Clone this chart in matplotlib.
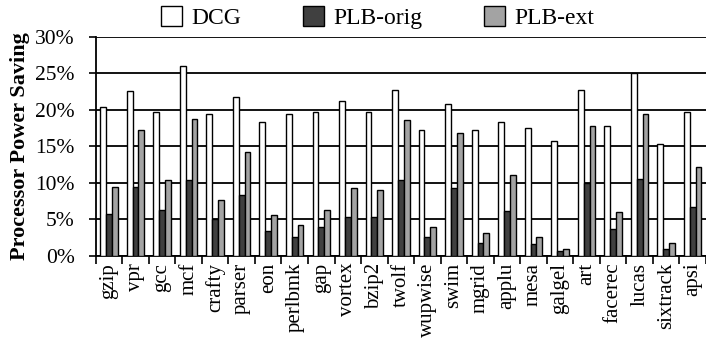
import matplotlib
matplotlib.use("Agg")
import matplotlib.pyplot as plt
import numpy as np

plt.rcParams["font.family"] = ["Liberation Serif", "DejaVu Serif"]

benchmarks = ["gzip", "vpr", "gcc", "mcf", "crafty", "parser", "eon", "perlbmk",
              "gap", "vortex", "bzip2", "twolf", "wupwise", "swim", "mgrid",
              "applu", "mesa", "galgel", "art", "facerec", "lucas", "sixtrack",
              "apsi"]
dcg = [20.4, 22.6, 19.7, 26.0, 19.4, 21.8, 18.3, 19.4, 19.7, 21.2, 19.7, 22.8,
       17.3, 20.8, 17.3, 18.3, 17.5, 15.7, 22.8, 17.8, 25.0, 15.4, 19.7]
plb_orig = [5.8, 9.5, 6.3, 10.4, 5.0, 8.3, 3.4, 2.6, 4.0, 5.3, 5.3, 10.4,
            2.6, 9.3, 1.8, 6.1, 1.6, 0.7, 10.0, 3.7, 10.6, 1.0, 6.7]
plb_ext = [9.5, 17.3, 10.4, 18.8, 7.7, 14.3, 5.6, 4.2, 6.3, 9.3, 9.0, 18.6,
           4.0, 16.8, 3.2, 11.1, 2.6, 1.0, 17.8, 6.0, 19.4, 1.8, 12.2]
yticks = [0, 5, 10, 15, 20, 25, 30]

fig = plt.figure(figsize=(7.06, 3.51), dpi=100)
ax = fig.add_axes([0.1356, 0.271, 0.8644, 0.6236])

x = np.arange(len(benchmarks))
w = 0.22
kw = dict(width=w, edgecolor="black", linewidth=1.0, zorder=3)
ax.bar(x - w, dcg, color="white", label="DCG", **kw)
ax.bar(x, plb_orig, color="#404040", label="PLB-orig", **kw)
ax.bar(x + w, plb_ext, color="#a3a3a3", label="PLB-ext", **kw)

ax.set_xlim(-0.5, len(benchmarks) - 0.5)
ax.set_ylim(0, 30)
ax.set_yticks(yticks)
ax.set_yticklabels([f"{v}%" for v in yticks], fontsize=15.5)
ax.yaxis.grid(True, color="black", linewidth=1.3, zorder=0)
ax.set_axisbelow(True)

ax.set_xticks(x)
ax.set_xticklabels(benchmarks, rotation=90, fontsize=15)
ax.tick_params(axis="x", which="major", length=0, pad=5)
ax.set_xticks(np.arange(len(benchmarks) + 1) - 0.5, minor=True)
ax.tick_params(axis="x", which="minor", length=6, width=1.2, direction="out")
ax.tick_params(axis="y", length=5, width=1.2, direction="out", pad=10)

for s in ["top", "right"]:
    ax.spines[s].set_visible(False)
for s in ["left", "bottom"]:
    ax.spines[s].set_linewidth(1.3)

ax.set_ylabel("Processor Power Saving", fontsize=16, fontweight="bold", labelpad=4)

fig.legend(loc="center", bbox_to_anchor=(0.535, 0.95), ncol=3, frameon=False,
           fontsize=17, handlelength=0.9, handleheight=0.9, columnspacing=2.6,
           handletextpad=0.4)

fig.savefig("out.png", dpi=100)
